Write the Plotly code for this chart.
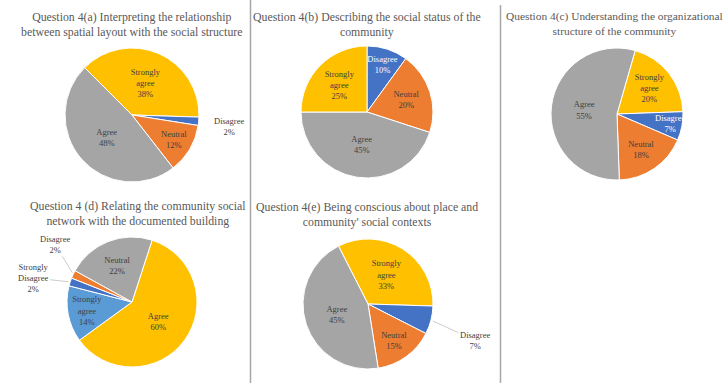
import math
import plotly.graph_objects as go

W, H = 728, 383

# ---- data ----
titles = [
    "Question 4(a) Interpreting the relationship<br>between spatial layout with the social structure",
    "Question 4(b) Describing the social status of the<br>community",
    "Question 4(c) Understanding the organizational<br>structure of the community",
    "Question 4 (d) Relating the community social<br>network with the documented building",
    "Question 4(e) Being conscious about place and<br>community' social contexts",
]

labels_a = ["Strongly agree", "Disagree", "Neutral", "Agree"]
values_a = [38, 2, 12, 48]

labels_b = ["Disagree", "Neutral", "Agree", "Strongly agree"]
values_b = [10, 20, 45, 25]

labels_c = ["Strongly agree", "Disagree", "Neutral", "Agree"]
values_c = [20, 7, 18, 55]

labels_d = ["Agree", "Strongly agree", "Strongly Disagree", "Disagree", "Neutral"]
values_d = [60, 14, 2, 2, 22]

labels_e = ["Strongly agree", "Disagree", "Neutral", "Agree"]
values_e = [33, 7, 15, 45]

# ---- styling ----
FONT = "Liberation Serif"
TXT = "#404040"
col_main = {"Strongly agree": "#FFC000", "Disagree": "#4472C4",
            "Neutral": "#ED7D31", "Agree": "#A5A5A5"}
col_d = {"Agree": "#FFC000", "Strongly agree": "#5B9BD5",
         "Strongly Disagree": "#4472C4", "Disagree": "#ED7D31",
         "Neutral": "#A5A5A5"}

def wrap(lab):
    return lab.replace(" ", "<br>")

def dom(cx, cy, r):
    return dict(x=[(cx - r) / W, (cx + r) / W],
                y=[(H - cy - r) / H, (H - cy + r) / H])

# outside label offsets (px, relative to slice edge) and whether a leader line is drawn
outside_cfg = [
    {"Disagree": (30, 5, False)},
    {},
    {},
    {"Disagree": (-18, -30, True), "Strongly Disagree": (-37, -4, True)},
    {"Disagree": (44, 20, True)},
]

panels = [
    # labels, values, colours, centre/radius px, rotation
    (labels_a, values_a, col_main, (132, 115, 67), -45),
    (labels_b, values_b, col_main, (367, 112, 66), 0),
    (labels_c, values_c, col_main, (617, 114, 66), 16),
    (labels_d, values_d, col_d, (132, 302, 65), 18),
    (labels_e, values_e, col_main, (368, 304, 65), -27),
]

fig = go.Figure()
annotations = []
for (labs, vals, cmap, (cx, cy, r), rot), outside in zip(panels, outside_cfg):
    text = []
    tcol = []
    for l, v in zip(labs, vals):
        if l in outside:
            text.append("")
            tcol.append(TXT)
        else:
            text.append(f"{wrap(l)}<br>{v}%")
            tcol.append("#FFFFFF" if cmap[l] == "#4472C4" else TXT)
    fig.add_trace(go.Pie(
        labels=labs, values=vals, sort=False, direction="clockwise",
        rotation=rot, domain=dom(cx, cy, r),
        marker=dict(colors=[cmap[l] for l in labs], line=dict(color="white", width=1)),
        text=text, textinfo="text", hoverinfo="label+percent",
        textposition="inside",
        insidetextorientation="horizontal",
        textfont=dict(family=FONT, size=8.5, color=tcol),
        showlegend=False,
    ))
    # outside labels with leader lines, placed from the slice mid-angle
    total = sum(vals)
    cum = 0
    for l, v in zip(labs, vals):
        mid = math.radians(rot + 360 * (cum + v / 2) / total)
        cum += v
        if l not in outside:
            continue
        dx, dy, line = outside[l]
        ex = cx + r * math.sin(mid)
        ey = cy - r * math.cos(mid)
        lab_txt = l.replace("Strongly ", "Strongly<br>") + f"<br>{v}%"
        if line:
            annotations.append(dict(
                x=ex / W, y=1 - ey / H, xref="paper", yref="paper",
                ax=dx, ay=dy, axref="pixel", ayref="pixel",
                text=lab_txt, showarrow=True, arrowhead=0, arrowwidth=0.8,
                arrowcolor="#BFBFBF", standoff=2, startstandoff=0,
                font=dict(family=FONT, size=8.5, color=TXT), align="center"))
        else:
            annotations.append(dict(
                x=(ex + dx) / W, y=1 - (ey + dy) / H, xref="paper", yref="paper",
                text=lab_txt, showarrow=False, xanchor="center", yanchor="middle",
                font=dict(family=FONT, size=8.5, color=TXT), align="center"))

title_pos = [(131, 8, 11.8), (367, 8, 11.8), (614, 8, 11.4), (138, 197, 11.8), (367, 198, 11.8)]
for t, (x, y, fs) in zip(titles, title_pos):
    annotations.append(dict(
        text=t, x=x / W, y=1 - y / H, xref="paper", yref="paper",
        xanchor="center", yanchor="top", showarrow=False,
        font=dict(family=FONT, size=fs, color="#595959"), align="center"))

shapes = [
    dict(type="line", xref="paper", yref="paper", x0=250.5 / W, x1=250.5 / W, y0=0, y1=1,
         line=dict(color="#A6A6A6", width=1.5)),
    dict(type="line", xref="paper", yref="paper", x0=500.5 / W, x1=500.5 / W, y0=0, y1=1 - 5 / H,
         line=dict(color="#A6A6A6", width=1.5)),
]

fig.update_layout(
    width=W, height=H, margin=dict(l=0, r=0, t=0, b=0),
    paper_bgcolor="white", plot_bgcolor="white",
    annotations=annotations, shapes=shapes,
    uniformtext=dict(mode="show", minsize=8.5),
)

fig.write_html("out.html", config={"displayModeBar": False},
               post_script="document.body.style.margin='0px';")
